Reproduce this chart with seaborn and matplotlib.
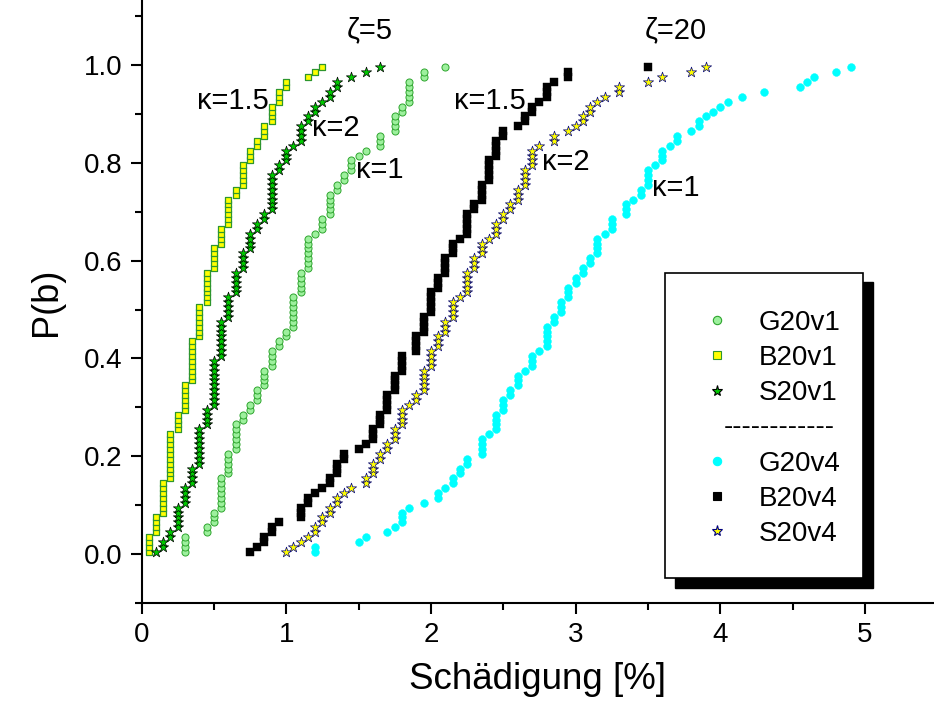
import numpy as np
import pandas as pd
import matplotlib
matplotlib.use("Agg")
import matplotlib.pyplot as plt
import seaborn as sns
from matplotlib.lines import Line2D
from matplotlib.patches import Rectangle
from matplotlib.ticker import MultipleLocator, FormatStrFormatter

# ---- data: damage value (Schädigung, %) of each step and number of specimens at that value ----
g20v1_x = [0.30, 0.45, 0.50, 0.55, 0.60, 0.65, 0.70, 0.75, 0.80, 0.85, 0.90, 0.95, 1.00, 1.05,
           1.10, 1.15, 1.20, 1.25, 1.30, 1.35, 1.40, 1.45, 1.50, 1.55, 1.65, 1.75, 1.80, 1.85,
           1.95, 2.10]
g20v1_n = [4, 2, 3, 7, 5, 6, 2, 2, 3, 4, 4, 2, 2, 7, 5, 7, 1, 3, 5, 2, 2, 3, 1, 1, 3, 4, 2, 5, 2, 1]

b20v1_x = [0.05, 0.10, 0.15, 0.20, 0.25, 0.30, 0.35, 0.40, 0.45, 0.50, 0.55, 0.60, 0.65, 0.70,
           0.75, 0.80, 0.85, 0.90, 0.95, 1.00, 1.15, 1.20, 1.25]
b20v1_n = [4, 4, 7, 10, 4, 6, 9, 7, 7, 5, 4, 6, 2, 5, 3, 2, 3, 4, 3, 2, 1, 1, 1]

s20v1_x = [0.10, 0.15, 0.20, 0.25, 0.30, 0.35, 0.40, 0.45, 0.50, 0.55, 0.60, 0.65, 0.70, 0.75,
           0.80, 0.85, 0.90, 0.95, 1.00, 1.05, 1.10, 1.15, 1.20, 1.25, 1.30, 1.35, 1.45, 1.55, 1.65]
s20v1_n = [1, 2, 2, 5, 4, 4, 8, 4, 10, 8, 5, 5, 4, 4, 2, 2, 8, 2, 3, 1, 4, 2, 2, 1, 2, 2, 1, 1, 1]

g20v4_x = [1.20, 1.50, 1.55, 1.70, 1.75, 1.80, 1.85, 1.95, 2.05, 2.10, 2.15, 2.20, 2.25, 2.35,
           2.40, 2.45, 2.50, 2.55, 2.60, 2.65, 2.70, 2.75, 2.80, 2.85, 2.90, 2.95, 3.00, 3.05,
           3.10, 3.15, 3.20, 3.25, 3.35, 3.40, 3.45, 3.50, 3.55, 3.60, 3.65, 3.70, 3.80, 3.85,
           3.90, 3.95, 4.00, 4.05, 4.15, 4.30, 4.55, 4.60, 4.65, 4.80, 4.90]
g20v4_n = [2, 1, 1, 1, 1, 3, 1, 1, 2, 1, 2, 2, 2, 4, 1, 4, 3, 2, 3, 1, 3, 1, 5, 2, 3, 3, 2, 2,
           2, 4, 1, 3, 3, 1, 2, 4, 1, 3, 1, 2, 1, 2, 1, 1, 1, 1, 1, 1, 1, 1, 1, 1, 1]

b20v4_x = [0.75, 0.80, 0.85, 0.90, 0.95, 1.10, 1.15, 1.20, 1.25, 1.30, 1.35, 1.40, 1.50, 1.55,
           1.60, 1.65, 1.70, 1.75, 1.80, 1.90, 1.95, 2.00, 2.05, 2.10, 2.15, 2.20, 2.25, 2.30,
           2.35, 2.40, 2.45, 2.50, 2.60, 2.65, 2.70, 2.75, 2.80, 2.85, 2.95, 3.50]
b20v4_n = [1, 1, 2, 2, 1, 3, 2, 1, 1, 2, 3, 2, 1, 1, 3, 3, 4, 4, 4, 4, 4, 5, 3, 4, 3, 1, 5, 2,
           4, 5, 4, 2, 1, 2, 2, 1, 3, 1, 2, 1]

s20v4_x = [1.00, 1.05, 1.10, 1.15, 1.20, 1.25, 1.30, 1.35, 1.40, 1.45, 1.55, 1.60, 1.65, 1.70,
           1.75, 1.80, 1.85, 1.90, 1.95, 2.00, 2.05, 2.10, 2.15, 2.20, 2.25, 2.30, 2.35, 2.40,
           2.45, 2.50, 2.55, 2.60, 2.65, 2.70, 2.75, 2.85, 2.95, 3.00, 3.05, 3.10, 3.15, 3.20,
           3.30, 3.50, 3.60, 3.80, 3.90]
s20v4_n = [1, 1, 1, 1, 2, 2, 2, 2, 1, 1, 2, 3, 2, 2, 3, 4, 1, 2, 5, 4, 3, 3, 4, 1, 5, 3, 3, 1,
           3, 2, 2, 3, 4, 4, 1, 2, 1, 1, 2, 2, 1, 1, 2, 1, 1, 1, 1]

series_names = ["G20v1", "B20v1", "S20v1", "G20v4", "B20v4", "S20v4"]
series_data = {
    "G20v1": (g20v1_x, g20v1_n),
    "B20v1": (b20v1_x, b20v1_n),
    "S20v1": (s20v1_x, s20v1_n),
    "G20v4": (g20v4_x, g20v4_n),
    "B20v4": (b20v4_x, b20v4_n),
    "S20v4": (s20v4_x, s20v4_n),
}

# annotations (text, x, y) in data coordinates
annotations = [
    ("\u03b6=5", 1.58, 1.072), ("\u03b6=20", 3.69, 1.072),
    ("\u03ba=1.5", 0.63, 0.926), ("\u03ba=2", 1.345, 0.871), ("\u03ba=1", 1.65, 0.785),
    ("\u03ba=1.5", 2.41, 0.926), ("\u03ba=2", 2.935, 0.801), ("\u03ba=1", 3.69, 0.748),
]

# ---- build long table (empirical distribution: plotting position (i-0.5)/n) ----
frames = []
for name in series_names:
    xs, ns = series_data[name]
    vals = np.repeat(np.asarray(xs, float), ns)
    n = len(vals)
    pb = (np.arange(1, n + 1) - 0.5) / n
    frames.append(pd.DataFrame({"series": name, "damage": vals, "P": pb}))
df = pd.concat(frames, ignore_index=True)

styles = {
    "G20v1": dict(marker="o", s=26, color="#9DF09D", edgecolor="#2FA52F", linewidth=0.7),
    "B20v1": dict(marker="s", s=16, color="#FFFF00", edgecolor="#2E962E", linewidth=0.9),
    "S20v1": dict(marker="*", s=60, color="#00C800", edgecolor="#000000", linewidth=0.5),
    "G20v4": dict(marker="o", s=32, color="#00FFFF", edgecolor="#00FFFF", linewidth=0.3),
    "B20v4": dict(marker="s", s=27, color="#000000", edgecolor="#000000", linewidth=0.3),
    "S20v4": dict(marker="*", s=60, color="#FFFF00", edgecolor="#000080", linewidth=0.5),
}

sns.set_style("ticks")
plt.rcParams["font.family"] = ["Liberation Sans", "DejaVu Sans"]
for key in ["text.color", "axes.labelcolor", "xtick.color", "ytick.color", "axes.edgecolor"]:
    plt.rcParams[key] = "black"

W, H = 934, 709
fig = plt.figure(figsize=(W / 100, H / 100), dpi=100)
ax = fig.add_axes([141.5 / W, (H - 603) / H, (W - 141.5) / W, 603 / H])

for name in series_names:
    sub = df[df["series"] == name]
    sns.scatterplot(data=sub, x="damage", y="P", ax=ax, legend=False, zorder=3, **styles[name])

ax.set_xlim(0, 5.477)
ax.set_ylim(-0.1, 1.133)
ax.xaxis.set_major_locator(MultipleLocator(1))
ax.xaxis.set_minor_locator(MultipleLocator(0.5))
ax.yaxis.set_major_locator(MultipleLocator(0.2))
ax.yaxis.set_minor_locator(MultipleLocator(0.1))
ax.yaxis.set_major_formatter(FormatStrFormatter("%.1f"))
ax.tick_params(which="major", length=8, width=1.5, labelsize=20, pad=6, direction="out",
               color="black", labelcolor="black")
ax.tick_params(which="minor", length=5, width=1.5, direction="out", color="black")
for sp in ["top", "right"]:
    ax.spines[sp].set_visible(False)
for sp in ["left", "bottom"]:
    ax.spines[sp].set_linewidth(1.5)
    ax.spines[sp].set_color("black")

ax.set_xlabel("Schädigung [%]", fontsize=26.5, labelpad=10, color="black")
ax.set_ylabel("P(b)", fontsize=26, labelpad=14, color="black")

for txt, x, y in annotations:
    ax.text(x, y, txt, fontsize=21, ha="center", va="center", zorder=4, color="black")

# ---- legend box with solid shadow ----
bx0, by_top, bx1, by_bot = 665, 273, 863, 578
off = 9.5
fig.patches.append(Rectangle(((bx0 + off) / W, (H - by_bot - off) / H), (bx1 - bx0) / W,
                             (by_bot - by_top) / H, transform=fig.transFigure,
                             facecolor="black", edgecolor="black", zorder=5))
fig.patches.append(Rectangle((bx0 / W, (H - by_bot) / H), (bx1 - bx0) / W,
                             (by_bot - by_top) / H, transform=fig.transFigure,
                             facecolor="white", edgecolor="black", linewidth=1.2, zorder=6))


def legend_handle(st):
    return Line2D([], [], linestyle="none", marker=st["marker"],
                  markersize=6 if st["marker"] != "*" else 8,
                  markerfacecolor=st["color"], markeredgecolor=st["edgecolor"],
                  markeredgewidth=0.8)


handles = [legend_handle(styles[n]) for n in series_names[:3]]
handles.append(Line2D([], [], linestyle="none"))
handles += [legend_handle(styles[n]) for n in series_names[3:]]
labels = series_names[:3] + ["G20v0"] + series_names[3:]
leg = fig.legend(handles, labels, loc="upper left",
                 bbox_to_anchor=(703.5 / W, (H - 310) / H), frameon=False,
                 fontsize=20, handlelength=1.0, handletextpad=1.0, labelspacing=0.33,
                 borderpad=0, borderaxespad=0)
for i, t in enumerate(leg.get_texts()):
    t.set_color("black")
    if i == 3:
        t.set_alpha(0)  # placeholder row for the separator line
leg.set_zorder(7)
fig.text(724 / W, (H - 427) / H, "------------", fontsize=20, ha="left", va="center",
         zorder=8, color="black")

fig.savefig("out.png", dpi=100)
